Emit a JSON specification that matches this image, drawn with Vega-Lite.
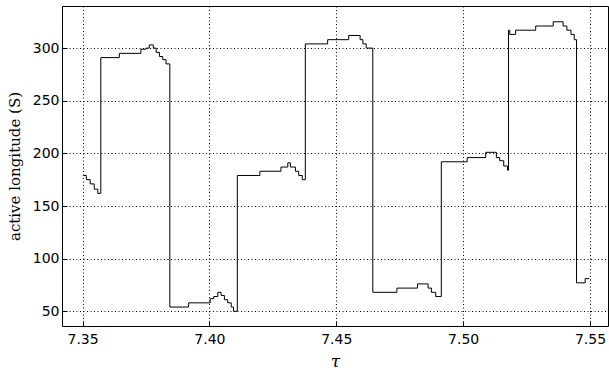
{
  "$schema": "https://vega.github.io/schema/vega-lite/v6.json",
  "width": 546,
  "height": 320,
  "autosize": "none",
  "padding": {"left": 62, "top": 6, "right": 1, "bottom": 46},
  "background": "white",
  "config": {
    "view": {"stroke": "black", "strokeWidth": 1},
    "axis": {
      "domain": false,
      "grid": true,
      "gridColor": "black",
      "gridDash": [1, 2.5],
      "gridOpacity": 1,
      "gridWidth": 1,
      "tickColor": "black",
      "tickSize": -5,
      "tickWidth": 1,
      "labelFont": "DejaVu Sans",
      "labelFontSize": 14,
      "labelColor": "black",
      "titleFont": "DejaVu Serif",
      "titleFontWeight": "normal",
      "titleColor": "black",
      "titleFontSize": 15
    }
  },
  "data": {
    "values": [
      {"tau": 7.3503, "lon": 179},
      {"tau": 7.3515, "lon": 175},
      {"tau": 7.3530, "lon": 171},
      {"tau": 7.3546, "lon": 166},
      {"tau": 7.3560, "lon": 162},
      {"tau": 7.3572, "lon": 291},
      {"tau": 7.3645, "lon": 295},
      {"tau": 7.3730, "lon": 299},
      {"tau": 7.3750, "lon": 300},
      {"tau": 7.3763, "lon": 303},
      {"tau": 7.3779, "lon": 300},
      {"tau": 7.3790, "lon": 296},
      {"tau": 7.3803, "lon": 292},
      {"tau": 7.3816, "lon": 289},
      {"tau": 7.3829, "lon": 285},
      {"tau": 7.3844, "lon": 54},
      {"tau": 7.3918, "lon": 58},
      {"tau": 7.4003, "lon": 62},
      {"tau": 7.4017, "lon": 64},
      {"tau": 7.4033, "lon": 68},
      {"tau": 7.4046, "lon": 65},
      {"tau": 7.4059, "lon": 61},
      {"tau": 7.4072, "lon": 58},
      {"tau": 7.4086, "lon": 54},
      {"tau": 7.4095, "lon": 50},
      {"tau": 7.4110, "lon": 179},
      {"tau": 7.4199, "lon": 183},
      {"tau": 7.4282, "lon": 187},
      {"tau": 7.4309, "lon": 191},
      {"tau": 7.4319, "lon": 187},
      {"tau": 7.4339, "lon": 183},
      {"tau": 7.4352, "lon": 179},
      {"tau": 7.4366, "lon": 175},
      {"tau": 7.4378, "lon": 304},
      {"tau": 7.4466, "lon": 308},
      {"tau": 7.4549, "lon": 312},
      {"tau": 7.4594, "lon": 308},
      {"tau": 7.4605, "lon": 304},
      {"tau": 7.4618, "lon": 300},
      {"tau": 7.4644, "lon": 68},
      {"tau": 7.4739, "lon": 72},
      {"tau": 7.4820, "lon": 76},
      {"tau": 7.4862, "lon": 72},
      {"tau": 7.4875, "lon": 68},
      {"tau": 7.4892, "lon": 64},
      {"tau": 7.4914, "lon": 192},
      {"tau": 7.5016, "lon": 196},
      {"tau": 7.5089, "lon": 201},
      {"tau": 7.5131, "lon": 196},
      {"tau": 7.5144, "lon": 193},
      {"tau": 7.5160, "lon": 188},
      {"tau": 7.5175, "lon": 184},
      {"tau": 7.5179, "lon": 317},
      {"tau": 7.5184, "lon": 313},
      {"tau": 7.5207, "lon": 317},
      {"tau": 7.5286, "lon": 321},
      {"tau": 7.5355, "lon": 325},
      {"tau": 7.5394, "lon": 321},
      {"tau": 7.5409, "lon": 317},
      {"tau": 7.5425, "lon": 313},
      {"tau": 7.5438, "lon": 308},
      {"tau": 7.5447, "lon": 77},
      {"tau": 7.5481, "lon": 81},
      {"tau": 7.5497, "lon": 81}
    ]
  },
  "mark": {"type": "line", "interpolate": "step-after", "color": "black", "strokeWidth": 1, "clip": true},
  "encoding": {
    "x": {
      "field": "tau",
      "type": "quantitative",
      "scale": {"domain": [7.3419, 7.5571], "nice": false, "zero": false},
      "axis": {
        "values": [7.35, 7.40, 7.45, 7.50, 7.55],
        "format": ".2f",
        "title": "τ",
        "titleFontStyle": "italic",
        "titleFontSize": 17,
        "labelPadding": 11,
        "titlePadding": 7
      }
    },
    "y": {
      "field": "lon",
      "type": "quantitative",
      "scale": {"domain": [36, 340], "nice": false, "zero": false},
      "axis": {
        "values": [50, 100, 150, 200, 250, 300],
        "title": "active longitude (S)",
        "labelPadding": 8,
        "titlePadding": 10
      }
    }
  }
}
